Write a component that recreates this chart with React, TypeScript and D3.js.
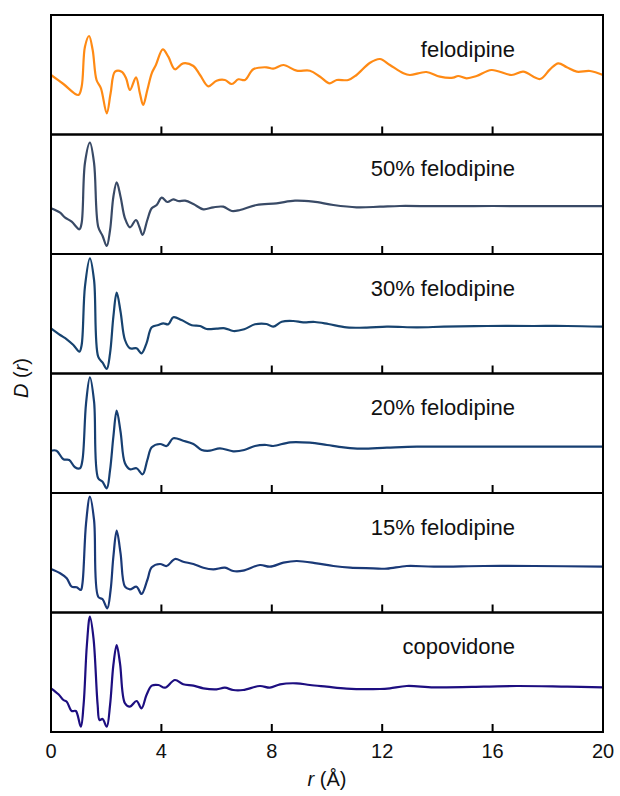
import React from "react";
import * as d3 from "d3";

type P = [number, number];

const labels = ["felodipine", "50% felodipine", "30% felodipine", "20% felodipine", "15% felodipine", "copovidone"];
const colors = ["#FF8A14", "#394a66", "#17436F", "#173F72", "#1A3977", "#1D0E80"];
const xTicks = [0, 4, 8, 12, 16, 20];

const felodipine: P[] = [
  [0, 12], [0.45, 3], [0.99, -8], [1.11, 0.3], [1.23, 40.3], [1.38, 51], [1.51, 37], [1.65, 7], [1.81, -1.3],
  [2.02, -26.3], [2.16, -6.3], [2.32, 15.3], [2.56, 15.3], [2.72, 8.7], [2.86, -3], [3.08, 9.7], [3.22, -6.3],
  [3.34, -18], [3.49, -3], [3.65, 13.7], [3.8, 22], [4.05, 37.7], [4.25, 30.3], [4.49, 17.7], [4.79, 23.7],
  [5.16, 21], [5.4, 12], [5.7, 0.7], [6.0, 6.3], [6.3, 7], [6.55, 3], [6.79, 7.7], [7.03, 7], [7.33, 17.7],
  [7.81, 19.7], [8.05, 18.3], [8.42, 22], [8.9, 16.3], [9.38, 16.3], [9.75, 10.3], [10.1, 3.7], [10.35, 7],
  [10.77, 7], [11.07, 12], [11.56, 24.3], [11.92, 28], [12.28, 22], [12.77, 13.7], [13.0, 12], [13.6, 15],
  [14.09, 10.3], [14.57, 9.3], [14.75, 11], [15.06, 8.7], [15.42, 11], [15.96, 17], [16.69, 12], [17.11, 15.3],
  [17.72, 8], [18.08, 17.7], [18.38, 23.7], [18.69, 19.7], [19.05, 15.3], [19.53, 16], [20, 12],
];

const fel50: P[] = [
  [0, -1.8], [0.33, -6.2], [0.5, -10.8], [0.75, -15.2], [1.03, -22.8], [1.11, -16.5], [1.23, 43.5], [1.41, 63.8],
  [1.56, 43.5], [1.71, -20.2], [1.87, -29.5], [2.02, -39.5], [2.14, -23.5], [2.26, 9.8], [2.38, 24.2], [2.52, 9.8],
  [2.68, -11.8], [2.86, -20.8], [3.08, -13.5], [3.2, -20.2], [3.32, -28.5], [3.49, -13.5], [3.65, -1.8], [3.83, 1.5],
  [4.01, 8.8], [4.22, 4.5], [4.43, 7.2], [4.61, 5.5], [4.86, 5.8], [5.16, 2.5], [5.52, -2.8], [5.88, -0.8],
  [6.24, -0.2], [6.55, -4.5], [6.85, -3.5], [7.45, 1.5], [8.17, 3.2], [8.84, 5.8], [9.5, 4.8], [10.23, 1.5],
  [11.07, -0.8], [11.92, -0.2], [12.64, 0.5], [14, 0.3], [16, 0.5], [18, 0.3], [20, 0.3],
];

const fel30: P[] = [
  [0, -2.3], [0.33, -9], [0.57, -13.3], [0.81, -19], [1.03, -25.7], [1.11, -19], [1.23, 39.3], [1.41, 67.7],
  [1.56, 46], [1.71, -30.7], [1.87, -36.7], [2.02, -43], [2.14, -27.3], [2.26, 9.3], [2.38, 33.3], [2.52, 14.3],
  [2.68, -14], [2.86, -22.3], [3.1, -22.3], [3.28, -27.3], [3.46, -17.3], [3.65, -1.3], [3.89, 1], [4.07, 2.7],
  [4.25, 1.7], [4.43, 8.7], [4.73, 6], [5.1, 0.7], [5.4, 0], [5.64, -3], [6.0, -2.7], [6.3, -2.3], [6.6, -5],
  [7.0, -3.3], [7.39, 1.7], [7.81, 2], [8.05, -0.7], [8.36, 4.3], [8.78, 5], [9.14, 3.7], [9.56, 4], [10.05, 2],
  [10.71, -1.3], [11.44, -1.7], [12.17, -0.7], [13.26, -1.3], [14.23, -0.7], [15.8, 0], [17.5, 0], [18.7, 0], [20, -0.7],
];

const fel20: P[] = [
  [0, -5.2], [0.2, -5.2], [0.45, -13.8], [0.66, -14.5], [0.87, -21.8], [1.05, -22.8], [1.14, -14.5], [1.27, 42.2],
  [1.41, 68.2], [1.56, 43.8], [1.71, -32.8], [1.87, -36.2], [2.02, -42.8], [2.14, -24.5], [2.26, 8.8], [2.38, 34.8],
  [2.52, 13.8], [2.68, -17.8], [2.86, -23.8], [3.1, -22.8], [3.32, -28.8], [3.49, -14.5], [3.65, -1.8], [3.95, 1.5],
  [4.19, -0.5], [4.43, 7.2], [4.79, 4.8], [5.16, 1.5], [5.46, -4.5], [5.76, -5.2], [6.12, -2.8], [6.6, -5.8],
  [7.0, -4.5], [7.39, -0.5], [7.81, 0.5], [8.05, -0.5], [8.66, 3.2], [9.38, 2.8], [10.0, 0.5], [10.6, -1.8],
  [11.2, -3.2], [12.17, -2.2], [13.26, -1.2], [15.06, -1.2], [16.87, -1.2], [20, -1.2],
];

const fel15: P[] = [
  [0, -4], [0.33, -8.3], [0.57, -13.3], [0.75, -21.7], [0.93, -22.3], [1.08, -25], [1.14, -18.3], [1.27, 41.7],
  [1.41, 68.3], [1.56, 45], [1.71, -31.7], [1.87, -34.3], [2.04, -43.3], [2.16, -25], [2.26, 8.3], [2.38, 34.3],
  [2.52, 11.7], [2.68, -21.7], [2.86, -24.3], [3.1, -21.7], [3.28, -29], [3.49, -15], [3.65, -2.3], [3.95, 1],
  [4.19, -1], [4.49, 6], [4.79, 3.3], [5.16, 1], [5.52, -2.7], [5.88, -4.3], [6.3, -2.7], [6.6, -6], [6.96, -5.7],
  [7.57, 0], [7.93, -1.7], [8.42, 2.3], [8.9, 4], [9.63, 1.7], [10.23, -1], [10.84, -2.7], [11.68, -3.3],
  [12.17, -3.7], [12.89, -1], [13.87, -1.7], [15.68, -1], [17.5, -1], [20, -1.7],
];

const copovidone: P[] = [
  [0, -3.8], [0.27, -9.8], [0.45, -15.5], [0.57, -17.2], [0.75, -26.5], [0.9, -26.5], [1.08, -42.2], [1.18, -20.5],
  [1.3, 39.5], [1.41, 67.8], [1.54, 46.2], [1.69, -20.5], [1.76, -35.5], [1.87, -34.5], [2.02, -42.2], [2.14, -20.5],
  [2.26, 19.5], [2.38, 39.5], [2.5, 21.2], [2.68, -18.8], [2.86, -22.2], [3.1, -16.5], [3.28, -23.8], [3.46, -10.5],
  [3.65, -1.2], [3.89, -0.5], [4.13, -3.2], [4.49, 4.5], [4.79, 0.2], [5.16, -1.2], [5.52, -3.8], [6.0, -4.8],
  [6.3, -3.2], [6.6, -5.5], [6.96, -5.5], [7.57, -1.5], [7.93, -3.2], [8.3, 0.2], [8.9, 1.2], [9.38, -0.5],
  [9.99, -2.2], [10.71, -4.2], [11.92, -4.5], [12.28, -3.8], [12.89, -1.5], [13.87, -2.8], [15.68, -2.2],
  [16.87, -1.5], [18.7, -2.2], [20, -2.8],
];

const series = [felodipine, fel50, fel30, fel20, fel15, copovidone];

const W = 620, H = 796;
const left = 51, right = 603, top = 15, bottom = 732;
const n = series.length;
const ph = (bottom - top) / n;
const font = "'Liberation Sans', Arial, Helvetica, sans-serif";

export default function App() {
  const x = d3.scaleLinear().domain([0, 20]).range([left, right]);
  return (
    <svg width={W} height={H} style={{ position: "absolute", left: 0, top: 0, background: "#fff" }} fontFamily={font}>
      {series.map((data, i) => {
        const pt = top + i * ph;
        const y = d3.scaleLinear().domain([-(ph - 72), 72]).range([pt + ph, pt]);
        const line = d3.line<P>().x((d) => x(d[0])).y((d) => y(d[1])).curve(d3.curveCatmullRom.alpha(0.5));
        return (
          <g key={i}>
            <path d={line(data) || ""} fill="none" stroke={colors[i]} strokeWidth={2.2} strokeLinejoin="round" />
            <text x={515} y={pt + 41.5} textAnchor="end" fontSize={22} fill="#111">{labels[i]}</text>
            {xTicks.slice(1, -1).map((t) => (
              <line key={t} x1={x(t)} x2={x(t)} y1={pt + ph} y2={pt + ph - 8} stroke="#000" strokeWidth={2} />
            ))}
            <rect x={left} y={pt} width={right - left} height={ph} fill="none" stroke="#000" strokeWidth={2} />
          </g>
        );
      })}
      {xTicks.map((t) => (
        <text key={t} x={x(t)} y={758} textAnchor="middle" fontSize={20} fill="#111">{t}</text>
      ))}
      <text x={(left + right) / 2} y={786} textAnchor="middle" fontSize={20} fill="#111">
        <tspan fontStyle="italic">r</tspan> (Å)
      </text>
      <text transform={`translate(28, 378) rotate(-90)`} textAnchor="middle" fontSize={20} fill="#111">
        <tspan fontStyle="italic">D</tspan> (<tspan fontStyle="italic">r</tspan>)
      </text>
    </svg>
  );
}
